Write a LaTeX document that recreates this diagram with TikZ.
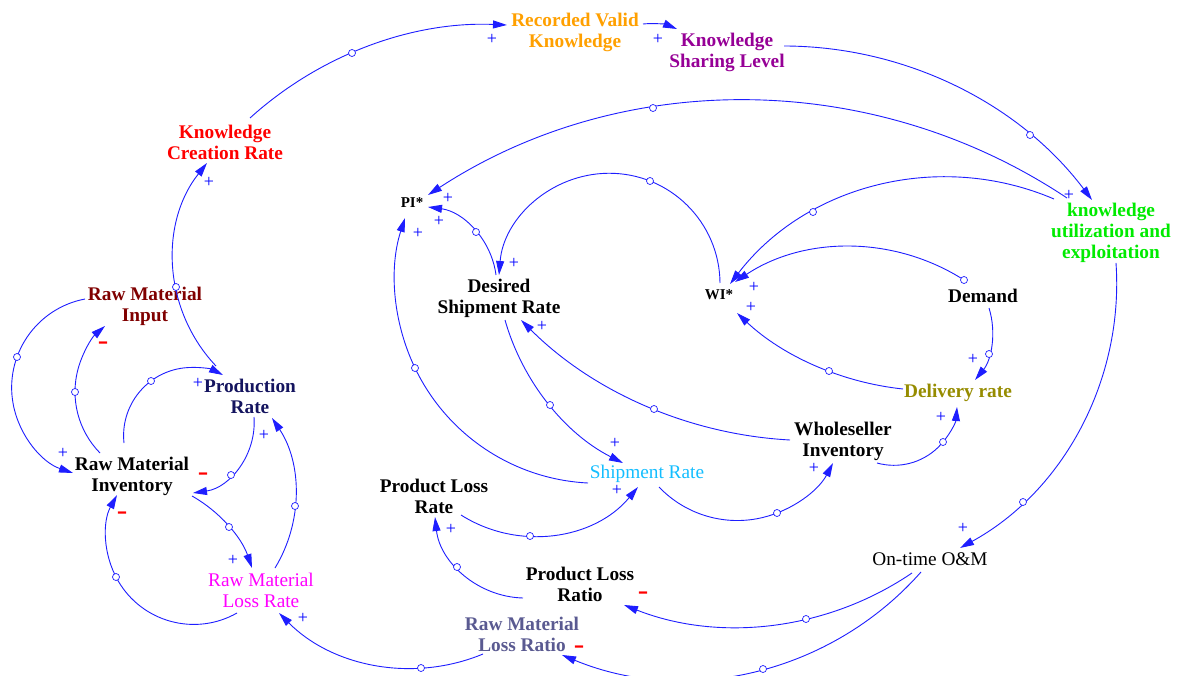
\documentclass[tikz,border=0pt]{standalone}
\usepackage{fontspec}
\setmainfont{Liberation Serif}
\usepackage{xfp}
\usetikzlibrary{arrows.meta,calc}
\definecolor{lnk}{RGB}{30,30,255}
\definecolor{cRed}{RGB}{255,0,0}
\definecolor{cOrange}{RGB}{255,160,0}
\definecolor{cPurple}{RGB}{150,0,150}
\definecolor{cGreen}{RGB}{0,235,0}
\definecolor{cOlive}{RGB}{150,140,0}
\definecolor{cSky}{RGB}{20,190,255}
\definecolor{cSlate}{RGB}{90,90,145}
\definecolor{cMaroon}{RGB}{128,0,0}
\definecolor{cNavy}{RGB}{20,20,95}
\definecolor{cMag}{RGB}{255,0,255}
\newcounter{hc}
\newcommand\lnkbase[4]{%
  \path (#2); \pgfgetlastxy{\lkT}{\lkU}\pgfmathsetmacro\lkXa{\lkT}\pgfmathsetmacro\lkYa{\lkU}%
  \path (#3); \pgfgetlastxy{\lkT}{\lkU}\pgfmathsetmacro\lkXb{\lkT}\pgfmathsetmacro\lkYb{\lkU}%
  \path (#4); \pgfgetlastxy{\lkT}{\lkU}\pgfmathsetmacro\lkXc{\lkT}\pgfmathsetmacro\lkYc{\lkU}%
  \edef\lkD{\fpeval{2*((\lkXa)*((\lkYb)-(\lkYc))+(\lkXb)*((\lkYc)-(\lkYa))+(\lkXc)*((\lkYa)-(\lkYb)))}}%
  \edef\lkSa{\fpeval{(\lkXa)*(\lkXa)+(\lkYa)*(\lkYa)}}%
  \edef\lkSb{\fpeval{(\lkXb)*(\lkXb)+(\lkYb)*(\lkYb)}}%
  \edef\lkSc{\fpeval{(\lkXc)*(\lkXc)+(\lkYc)*(\lkYc)}}%
  \edef\lkUx{\fpeval{((\lkSa)*((\lkYb)-(\lkYc))+(\lkSb)*((\lkYc)-(\lkYa))+(\lkSc)*((\lkYa)-(\lkYb)))/(\lkD)}}%
  \edef\lkUy{\fpeval{((\lkSa)*((\lkXc)-(\lkXb))+(\lkSb)*((\lkXa)-(\lkXc))+(\lkSc)*((\lkXb)-(\lkXa)))/(\lkD)}}%
  \edef\lkR{\fpeval{round(sqrt(((\lkXa)-(\lkUx))*((\lkXa)-(\lkUx))+((\lkYa)-(\lkUy))*((\lkYa)-(\lkUy))),3)}}%
  \edef\lkAs{\fpeval{atand((\lkYa)-(\lkUy),(\lkXa)-(\lkUx))}}%
  \edef\lkAm{\fpeval{atand((\lkYb)-(\lkUy),(\lkXb)-(\lkUx))}}%
  \edef\lkAe{\fpeval{atand((\lkYc)-(\lkUy),(\lkXc)-(\lkUx))}}%
  \edef\lkDm{\fpeval{(\lkAm)-(\lkAs)-360*floor(((\lkAm)-(\lkAs))/360)}}%
  \edef\lkDe{\fpeval{(\lkAe)-(\lkAs)-360*floor(((\lkAe)-(\lkAs))/360)}}%
  \edef\lkEnd{\fpeval{round((\lkDm)<(\lkDe) ? (\lkAs)+(\lkDe) : (\lkAs)+(\lkDe)-360,4)}}%
  \edef\lkAs{\fpeval{round(\lkAs,4)}}%
  \draw[link,#1] (#2) arc[start angle=\lkAs, end angle=\lkEnd, radius=\lkR pt];%
}
\newcommand\lnk[4][]{\lnkbase{#1}{#2}{#3}{#4}\stepcounter{hc}\node[hdl] (h\arabic{hc}) at (#3) {};}
\newcommand\lnkh[5][]{\lnkbase{#1}{#2}{#3}{#4}\stepcounter{hc}\node[hdl] (h\arabic{hc}) at (#5) {};}
\begin{document}
\begin{tikzpicture}[x=1pt,y=-1pt,
  lab/.style={align=center, inner sep=1pt, font=\bfseries\fontsize{19.3}{21}\selectfont},
  labr/.style={align=center, inner sep=1pt, font=\fontsize{19.3}{21}\selectfont},
  labs/.style={inner sep=1pt, font=\bfseries\fontsize{15}{16}\selectfont},
  link/.style={draw=lnk, line width=0.9pt, -{Triangle[length=14pt,width=8pt]}},
  hdl/.style={circle, draw=lnk, fill=white, line width=0.7pt, inner sep=0pt, minimum size=7pt},
  pl/.style={text=blue, font=\fontsize{18}{18}\selectfont, inner sep=0pt},
  mn/.style={text=red, font=\bfseries\fontsize{16}{16}\selectfont, inner sep=0pt}]
\fill[white] (0,0) rectangle (1178,676);
\useasboundingbox (0,0) rectangle (1178,676);
% variables
\node[lab,text=cRed] (kcr) at (225,142) {Knowledge\\Creation Rate};
\node[lab,text=cOrange] (rvk) at (575,32) {Recorded Valid\\Knowledge};
\node[lab,text=cPurple] (ksl) at (727,52) {Knowledge\\Sharing Level};
\node[lab,text=cGreen] (kue) at (1111,233) {knowledge\\utilization and\\exploitation};
\node[labs] (pi) at (412,203) {PI*};
\node[lab] (dsr) at (499,298) {Desired\\Shipment Rate};
\node[labs] (wi) at (719,295) {WI*};
\node[lab] (dem) at (983,296) {Demand};
\node[lab,text=cOlive] (del) at (958,393) {Delivery rate};
\node[lab] (whi) at (843,441) {Wholeseller\\Inventory};
\node[labr,text=cSky] (shr) at (647,474) {Shipment Rate};
\node[lab] (plr) at (434,496) {Product Loss\\Rate};
\node[lab] (plo) at (580,584) {Product Loss\\Ratio};
\node[lab,text=cSlate] (rmlr) at (522,634) {Raw Material\\Loss Ratio};
\node[labr] (otm) at (930,559) {On-time O\&M};
\node[lab,text=cMaroon] (rmi) at (145,306) {Raw Material\\Input};
\node[lab,text=cNavy] (pr) at (250,396) {Production\\Rate};
\node[lab] (rminv) at (132,476) {Raw Material\\Inventory};
\node[labr,text=cMag] (rmloss) at (261,590) {Raw Material\\Loss Rate};
% links
\lnk{$(kcr)+(25,-24)$}{352,53}{$(rvk)+(-68,-7)$}
\lnkbase{}{$(rvk)+(68,-8)$}{661,24.5}{$(ksl)+(-50,-23)$}
\lnk{$(ksl)+(57,-6)$}{1030,135}{$(kue)+(-19,-33)$}
\lnk{$(kue)+(-44,-35)$}{653,108}{$(pi)+(16,-8)$}
\lnk{$(kue)+(-57,-34)$}{813,212}{$(wi)+(11,-11)$}
\lnkh{$(dem)+(-19,-16)$}{847,247}{$(wi)+(16,-13)$}{$(dem)+(-19,-16)$}
\lnk{$(dem)+(6,12)$}{989,354}{$(del)+(17,-13)$}
\lnk{$(del)+(-55,-4)$}{829,371}{$(wi)+(18,18)$}
\lnk{$(whi)+(34,22)$}{943,442}{$(del)+(-1,14)$}
\lnk{$(whi)+(-53,-1)$}{654,409}{$(dsr)+(22,22)$}
\lnk{$(shr)+(12,13)$}{777,513}{$(whi)+(-10,22)$}
\lnk{$(dsr)+(6,22)$}{550,405}{$(shr)+(-24,-11)$}
\lnk{$(shr)+(-59,9)$}{415,368}{$(pi)+(-7,15)$}
\lnk{$(plr)+(27,19)$}{530,536}{$(shr)+(-9,13)$}
\lnk{$(plo)+(-57,14)$}{457,567}{$(plr)+(1,21)$}
\lnk{$(otm)+(-18,14)$}{806,619}{$(plo)+(44,21)$}
\lnk{$(otm)+(-9,13)$}{763,669}{$(rmlr)+(40,21)$}
\lnk{$(rmlr)+(-39,20)$}{421,668}{$(rmloss)+(18,23)$}
\lnk{$(kue)+(5,30)$}{1023,502}{$(otm)+(30,-11)$}
\lnk{$(rminv)+(-32,-23)$}{75,392}{$(rmi)+(-40,20)$}
\lnk{$(rmi)+(-60,-7)$}{17,357}{$(rminv)+(-59,-3)$}
\lnk{$(rminv)+(-8,-33)$}{151,381}{$(pr)+(-27,-21)$}
\lnk{$(pr)+(-34,-30)$}{176,287}{$(kcr)+(-18,21)$}
\lnk{$(pr)+(4,21)$}{231,475}{$(rminv)+(61,17)$}
\lnk{$(rminv)+(60,20)$}{229,527}{$(rmloss)+(-9,-22)$}
\lnk{$(rmloss)+(14,-22)$}{295,506}{$(pr)+(22,22)$}
\lnk{$(rmloss)+(-24,23)$}{116,577}{$(rminv)+(-15,19)$}
\lnk{$(dsr)+(-3,-23)$}{476,232}{$(pi)+(16,4)$}
\lnk{$(wi)+(1,-12)$}{650,181}{$(dsr)+(0,-23)$}
% polarities
\node[pl] (p1) at (492,39) {+};
\node[pl] (p2) at (658,39) {+};
\node[pl] (p3) at (1069,195) {+};
\node[pl] (p4) at (448,198) {+};
\node[pl] (p5) at (439,221) {+};
\node[pl] (p6) at (418,233) {+};
\node[pl] (p7) at (514,263) {+};
\node[pl] (p8) at (754,287) {+};
\node[pl] (p9) at (751,307) {+};
\node[pl] (p10) at (542,326) {+};
\node[pl] (p11) at (973,359) {+};
\node[pl] (p12) at (941,417) {+};
\node[pl] (p13) at (615,443) {+};
\node[pl] (p14) at (814,468) {+};
\node[pl] (p15) at (617,490) {+};
\node[pl] (p16) at (451,529) {+};
\node[pl] (p17) at (963,528) {+};
\node[pl] (p18) at (303,618) {+};
\node[pl] (p19) at (209,182) {+};
\node[pl] (p20) at (198,383) {+};
\node[pl] (p21) at (264,435) {+};
\node[pl] (p22) at (233,560) {+};
\node[pl] (p23) at (63,453) {+};
\node[mn] (m1) at (103,346) {\scalebox{1}[2]{–}};
\node[mn] (m2) at (203,477) {\scalebox{1}[2]{–}};
\node[mn] (m3) at (122,516) {\scalebox{1}[2]{–}};
\node[mn] (m4) at (643,596) {\scalebox{1}[2]{–}};
\node[mn] (m5) at (579,650) {\scalebox{1}[2]{–}};
\end{tikzpicture}
\end{document}
